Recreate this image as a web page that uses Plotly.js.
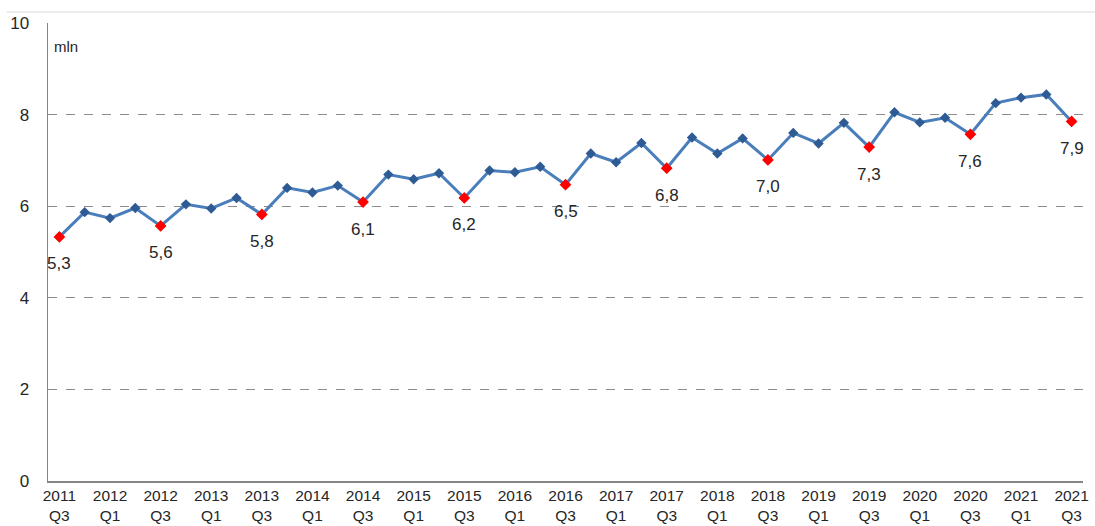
<!DOCTYPE html>
<html>
<head>
<meta charset="utf-8">
<script src="https://cdn.plot.ly/plotly-3.0.1.min.js"></script>
<style>
  html, body { margin: 0; padding: 0; background: #fff; }
  #chart { width: 1095px; height: 526px; }
</style>
</head>
<body>
<div id="chart"></div>
<script>
// quarterly series, 2011 Q3 .. 2021 Q3 (mln)
var quarters = [
    "2011 Q3", "2011 Q4", "2012 Q1", "2012 Q2", "2012 Q3", "2012 Q4",
    "2013 Q1", "2013 Q2", "2013 Q3", "2013 Q4", "2014 Q1", "2014 Q2",
    "2014 Q3", "2014 Q4", "2015 Q1", "2015 Q2", "2015 Q3", "2015 Q4",
    "2016 Q1", "2016 Q2", "2016 Q3", "2016 Q4", "2017 Q1", "2017 Q2",
    "2017 Q3", "2017 Q4", "2018 Q1", "2018 Q2", "2018 Q3", "2018 Q4",
    "2019 Q1", "2019 Q2", "2019 Q3", "2019 Q4", "2020 Q1", "2020 Q2",
    "2020 Q3", "2020 Q4", "2021 Q1", "2021 Q2", "2021 Q3"
];

var values = [
    5.33, 5.87, 5.74, 5.96, 5.57, 6.04,
    5.95, 6.18, 5.82, 6.40, 6.30, 6.45,
    6.09, 6.69, 6.59, 6.72, 6.18, 6.78,
    6.74, 6.86, 6.47, 7.15, 6.96, 7.38,
    6.83, 7.50, 7.15, 7.48, 7.01, 7.60,
    7.37, 7.82, 7.29, 8.05, 7.83, 7.93,
    7.57, 8.25, 8.37, 8.44, 7.85
];

// labels shown under every Q3 point
var q3Labels = ["5,3", "5,6", "5,8", "6,1", "6,2", "6,5", "6,8", "7,0", "7,3", "7,6", "7,9"];

var yTicks = [0, 2, 4, 6, 8, 10];

// every second quarter gets a tick label
var tickVals = quarters.filter(function(q, i) { return i % 2 == 0; });
var tickText = tickVals.map(function(q) { return q.replace(" ", "<br>"); });

var q3x = [];
var q3y = [];
quarters.forEach(function(q, i) {
    if (q.indexOf("Q3") > 0) {
        q3x.push(q);
        q3y.push(values[i]);
    }
});

var lineTrace = {
    x: quarters,
    y: values,
    type: 'scatter',
    mode: 'lines+markers',
    line: { color: '#4a7ebb', width: 3 },
    marker: { symbol: 'diamond', size: 8, color: '#2f5b94' },
    hoverinfo: 'x+y'
};

var q3Trace = {
    x: q3x,
    y: q3y,
    type: 'scatter',
    mode: 'markers',
    marker: { symbol: 'diamond', size: 9, color: '#ff0000' },
    hoverinfo: 'x+y'
};

var annotations = q3x.map(function(q, i) {
    return {
        x: q, y: q3y[i], xref: 'x', yref: 'y',
        text: q3Labels[i], showarrow: false,
        yshift: -27,
        font: { family: 'Liberation Sans, Arial, sans-serif', size: 17, color: '#262626' }
    };
});

annotations.push({
    x: 0, y: 9.48, xref: 'paper', yref: 'y', xanchor: 'left',
    text: 'mln', showarrow: false, xshift: 4,
    font: { family: 'Liberation Sans, Arial, sans-serif', size: 15, color: '#262626' }
});

var layout = {
    width: 1095,
    height: 526,
    margin: { l: 48, r: 12, t: 23, b: 45 },
    paper_bgcolor: '#fff',
    plot_bgcolor: '#fff',
    showlegend: false,
    font: { family: 'Liberation Sans, Arial, sans-serif', size: 15, color: '#262626' },
    xaxis: {
        type: 'category',
        categoryorder: 'array',
        categoryarray: quarters,
        range: [-0.45, 40.45],
        tickmode: 'array',
        tickvals: tickVals,
        ticktext: tickText,
        tickfont: { size: 15.5, color: '#262626' },
        showgrid: false,
        showline: true,
        linecolor: '#868686',
        linewidth: 1.5,
        ticks: '',
        zeroline: false
    },
    yaxis: {
        range: [0, 10],
        tickmode: 'array',
        tickvals: yTicks,
        tickfont: { size: 17, color: '#262626' },
        showgrid: true,
        gridcolor: '#8c8c8c',
        griddash: 'dash',
        gridwidth: 1,
        showline: true,
        linecolor: '#868686',
        linewidth: 1.5,
        ticks: '',
        ticklabelstandoff: 14,
        zeroline: false
    },
    shapes: [{
        type: 'line', xref: 'paper', yref: 'paper',
        x0: -0.04, x1: 1.02, y0: 1.024, y1: 1.024,
        line: { color: '#d9d9d9', width: 1 }
    }],
    annotations: annotations
};

Plotly.newPlot('chart', [lineTrace, q3Trace], layout, { displayModeBar: false, staticPlot: true });
</script>
</body>
</html>
